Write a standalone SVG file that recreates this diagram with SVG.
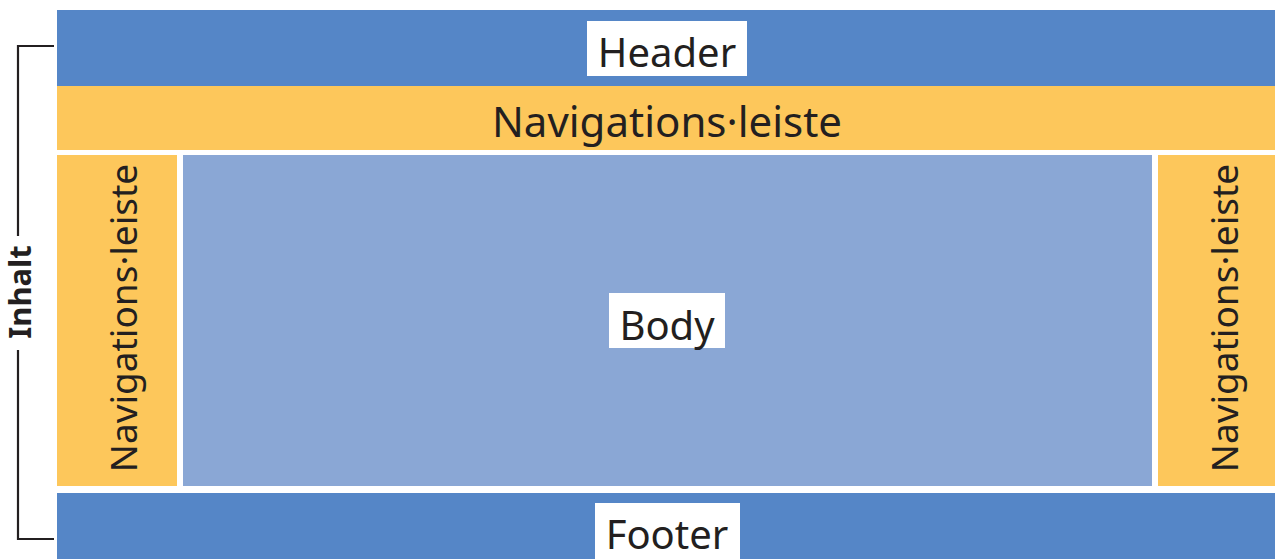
<svg xmlns="http://www.w3.org/2000/svg" width="1275" height="559" viewBox="0 0 1275 559">
<style>
.blue{fill:#5586C7}
.yel{fill:#FDC75B}
.body{fill:#8AA7D5}
.lbl{font-family:"Noto Sans","Open Sans",sans-serif;font-size:40px;fill:#231F20;text-anchor:middle}
.nav{font-size:42px}
.vnav{font-size:37px}
.box{fill:#FFFFFF}
.br{fill:none;stroke:#231F20;stroke-width:2.2}
.inh{font-family:"Noto Sans","Open Sans",sans-serif;font-size:31px;font-weight:bold;fill:#231F20;text-anchor:middle}
</style>
<rect width="1275" height="559" fill="#FFFFFF"/>
<g id="header">
<rect class="blue" x="57" y="10" width="1218" height="76"/>
<rect class="box" x="587" y="21" width="160" height="55"/>
<text class="lbl" x="667" y="67">Header</text>
</g>
<g id="nav-top">
<rect class="yel" x="57" y="86" width="1218" height="64"/>
<text class="lbl nav" x="667" y="137">Navigations·leiste</text>
</g>
<g id="nav-left">
<rect class="yel" x="57" y="155" width="120" height="331"/>
<text class="lbl vnav" transform="translate(137,318) rotate(-90)" x="0" y="0">Navigations·leiste</text>
</g>
<g id="body">
<rect class="body" x="183" y="155" width="969" height="331"/>
<rect class="box" x="609" y="293" width="116" height="55"/>
<text class="lbl" x="667" y="340">Body</text>
</g>
<g id="nav-right">
<rect class="yel" x="1158" y="155" width="117" height="331"/>
<text class="lbl vnav" transform="translate(1238,318) rotate(-90)" x="0" y="0">Navigations·leiste</text>
</g>
<g id="footer">
<rect class="blue" x="57" y="493" width="1218" height="66"/>
<rect class="box" x="595" y="503" width="145" height="56"/>
<text class="lbl" x="667" y="549">Footer</text>
</g>
<g id="connectors">
<path class="br" d="M54,46 H18 V236 M18,350 V539 H54"/>
<text class="inh" transform="translate(31,292) rotate(-90)" x="0" y="0">Inhalt</text>
</g>
</svg>
